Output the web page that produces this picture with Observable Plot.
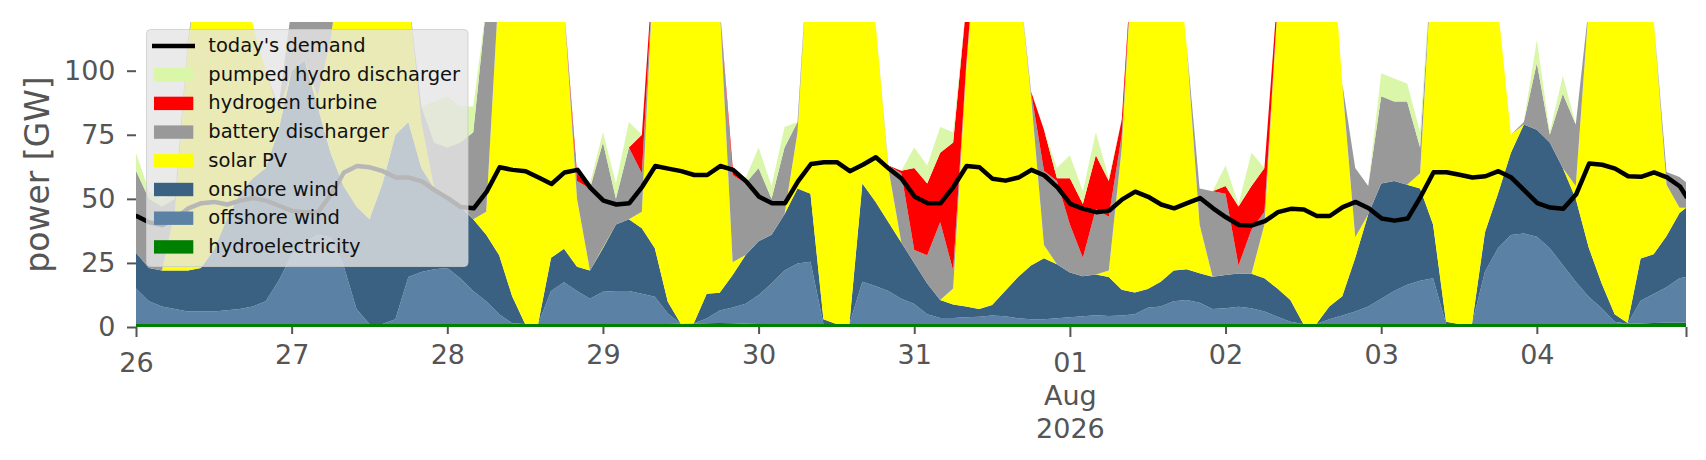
<!DOCTYPE html>
<html>
<head>
<meta charset="utf-8">
<script src="https://cdn.jsdelivr.net/npm/d3@7"></script>
<script src="https://cdn.jsdelivr.net/npm/@observablehq/plot@0.6"></script>
<style>
  html, body { margin: 0; padding: 0; background: #ffffff; }
  #chart { width: 1706px; height: 460px; }
</style>
</head>
<body>
<div id="chart"></div>
<script>
// hours since 26 Jul 2026 00:00 (two-hourly readings, last reading at 23:00 on 4 Aug)
const hours = [...d3.range(0, 240, 2), 239];

// values in GW
const hydroelectricity = [
  1.2,1.2,1.2,1.2,1.2,1.2,1.2,1.2,1.2,1.2, 1.2,1.2,1.2,1.2,1.2,1.2,1.2,1.2,1.2,1.2, 1.2,1.2,1.2,1.2,1.2,1.2,1.2,1.2,1.2,1.2,
  1.2,1.2,1.2,1.2,1.2,1.2,1.2,1.2,1.2,1.2, 1.2,1.2,1.3,1.4,1.5,1.6,1.5,1.3,1.2,1.2, 1.2,1.2,1.2,1.2,1.2,1.2,1.2,1.2,1.2,1.2,
  1.2,1.2,1.2,1.2,1.2,1.2,1.2,1.2,1.2,1.2, 1.2,1.2,1.2,1.2,1.2,1.2,1.2,1.2,1.2,1.2, 1.2,1.2,1.2,1.2,1.2,1.2,1.2,1.2,1.2,1.2,
  1.2,1.2,1.2,1.2,1.2,1.2,1.2,1.2,1.2,1.2, 1.2,1.2,1.2,1.2,1.2,1.2,1.2,1.2,1.2,1.2, 1.2,1.2,1.2,1.2,1.2,1.3,1.4,1.6,1.7,1.7, 1.7
];
const offshoreWind = [
  13.8,8.8,6.8,5.8,4.8,4.8,4.8,5.3,5.8,6.8, 8.8,16.8,26.8,31.8,34.8,33.8,22.8,5.8,0,0, 1.8,18.3,20.3,21.3,21.8,17.8,12.8,8.8,3.8,0.3,
  0,0,12.8,16.3,12.8,9.8,12.6,12.8,12.8,11.8, 10.6,4.1,0,0,1.8,4.8,6.1,7.8,11.3,15.8, 20.8,23.6,24.3,0,0,0,16.5,14.8,12.8,9.8,
  7.8,3.8,2.3,2.3,2.6,2.8,3.3,3,2.2,1.8, 1.8,2.2,2.6,3,3.4,3.1,3.3,3.8,6.3,6.8, 8.8,9.3,8.3,5.8,6.1,6.7,6.1,4.8,2.8,0.8,
  0,0,1.8,3.3,4.8,6.8,9.8,12.8,15.3,16.8, 17.8,0,0,0,20.4,29.5,34.7,35.3,34,29.5, 23,16.5,10.6,6.1,0.8,0,8.8,11.3,13.8,17.3, 17.8
];
const onshoreWind = [
  14,13,14,15,16,17,24,35.5,45,50, 52,59,72,71,50,33,31,40,40.8,54.8, 72,60.5,40.5,31.5,27,28,28,26,23,10.5,
  0,0,13,13,9.5,11,16.9,26,28,25.5, 18.9,4.6,0,0,9.7,7,12.7,19,21,19, 22,29.2,26.5,1.8,0,0,38.3,33,27,22,
  16,12,7,5.3,4.2,3,4.1,9.8,16.1,21, 23.8,21.1,17.5,15.6,15.9,15.2,10,8.5,7.3,9.7, 12,12,11.5,12.6,13,13,13.5,13,11,8.5,
  0,0,5,7.5,21,36,45,43,39,36, 21,0.8,0,0,15.4,21.3,32.1,42.5,41.8,41.3, 37.8,32.3,19.2,9.7,3,0.3,16.5,15.5,20,25.5, 27
];
const solarPV = [
  0,0,0,23,88,122,130,118,98,60, 38,7,0,0,4,44,95,118,123,104, 75,50,18,0,0,0,0,9,107,148,
  169,169,133,94.5,26.5,0,0.3,0,0,6.5, 119.3,155,169,169,152,112,5,0,0,0, 0,22,108,167,169,169,109,71,21,0,
  0,0,0,6.2,92,158,161,151,120.5,66, 5.2,0,0,0,0,2.5,55.5,146.5,155,152, 138,87.5,19,0,0,0,0,21,110,154.5,
  169,169,157,83,8,0,0,0,0,6, 110,163,169,169,128,73,7,0,0,0, 0,5,94,148,165,168.5,138.5,92,20,2, 0
];
const batteryDischarger = [
  32,27,25,5,2,0,0,0,0,0, 0,2,25,21,35,13,0,0,0,0, 0,0,6,18,20,25,34,80,0,0,
  0,0,0,0,7,32,41,10,28,15, 0,0,0,0,0,0,34,28,28.5,14, 26,4,0,0,0,0,0,0,1,27,
  5,11,30.5,7,2,0,0,0,0,2, 29,32.5,18.7,7.2,25.5,21,5,0,0,0, 0,0,14,33.4,31.7,3.1,17.2,5,0,0,
  0,0,0,0,27,11,34,31,32.5,10, 0,0,0,0,0,0,0,1,26,3, 29,24,0,0,0,0,0,0,5,12, 10
];
const hydrogenTurbine = [
  0,0,0,0,0,0,0,0,0,0, 0,0,0,0,0,0,0,0,0,0, 0,0,0,0,0,0,0,0,0,0,
  0,0,0,0,3,0,0,0,0,15, 0,0,0,0,0,0,3,0,0,0, 0,0,0,0,0,0,0,0,0,1,
  32,28,27,50,23,0,0,0,0,0, 16,1,18,21,21,14,6,0,0,0, 0,0,0,0,3,23,17,17,5,0,
  0,0,0,0,0,0,0,0,0,0, 0,0,0,0,0,0,0,0,0,0, 0,0,0,0,0,0,0,0,0,0, 0
];
const pumpedHydroDischarger = [
  7,3,3,2,0,0,0,0,0,0, 0,0,0,0,0,0,0,0,0,0, 0,0,0,16,20,14,10,0,0,0,
  0,0,0,0,0,2,4,6,10,0, 0,0,0,0,0,0,0,2,8,5, 8,0,0,0,0,0,0,0,0,0,
  8,7,10,4,0,0,0,0,0,0, 0,4,9,5,9,1,0,0,0,0, 0,0,0,0,8,1,13,0,0,0,
  0,0,0,0,0,0,9,9,7,6, 0,0,0,0,0,0,0,0,9,1, 7,0,0,0,0,0,0,0,0,0, 0
];
const todaysDemand = [
  43.5,41,40,42.5,46.5,48.5,49,48,49.5,50.5, 49.5,47.5,45.5,45,45,52,60.5,63,62.5,61, 58.5,58.5,57,53.5,50.5,47,46.5,53,62.5,61.5,
  61,58.5,56,60.5,61.5,54.5,49.5,48,48.5,55, 63,62,61,59.5,59.5,63,61.5,57,51,48.5, 48.5,57,63.8,64.5,64.5,61,63.5,66.4,62,58,
  51,48.5,48.5,55,63,62.5,58,57.3,58.5,61.5, 59.3,54.7,48.2,46.3,45,45.6,50,53,51,48, 46.5,48.5,50.5,46.5,43,40,39.8,41.5,45,46.3,
  46,43.5,43.5,47,49,46.5,42.5,41.7,42.5,51, 60.6,60.6,59.6,58.5,59,61,58.5,53.5,48.5,46.8, 46.3,52,64,63.5,62,59,58.8,60.5,58.6,55, 51
];

// stacking order, bottom to top
const seriesNames = ["hydroelectricity", "offshore wind", "onshore wind", "solar PV",
  "battery discharger", "hydrogen turbine", "pumped hydro discharger"];
const seriesValues = [hydroelectricity, offshoreWind, onshoreWind, solarPV,
  batteryDischarger, hydrogenTurbine, pumpedHydroDischarger];
const seriesColors = ["#008000", "#5b82a5", "#3b6182", "#ffff00", "#999999", "#ff0000", "#d9f6a9"];

// legend (top to bottom)
const legendLabels = ["today's demand", "pumped hydro discharger", "hydrogen turbine",
  "battery discharger", "solar PV", "onshore wind", "offshore wind", "hydroelectricity"];
const legendColors = ["#000000", "#d9f6a9", "#ff0000", "#999999", "#ffff00", "#3b6182", "#5b82a5", "#008000"];

// x ticks
const minorTickHours = [24, 48, 72, 96, 120, 168, 192, 216];
const minorTickLabels = ["27", "28", "29", "30", "31", "02", "03", "04"];
const majorTickHours = [0, 144, 239];
const majorTickLabels = ["26", "01\nAug\n2026", ""];
const yTicks = [0, 25, 50, 75, 100];

const start = Date.UTC(2026, 6, 26);
const toDate = h => new Date(start + h * 3600e3);

const rows = [];
seriesNames.forEach((name, k) => {
  hours.forEach((h, i) => rows.push({t: toDate(h), series: name, value: seriesValues[k][i]}));
});
const demandRows = hours.map((h, i) => ({t: toDate(h), value: todaysDemand[i]}));

const minorMap = new Map(minorTickHours.map((h, i) => [+toDate(h), minorTickLabels[i]]));
const majorMap = new Map(majorTickHours.map((h, i) => [+toDate(h), majorTickLabels[i]]));

const svg = Plot.plot({
  width: 1706,
  height: 460,
  marginLeft: 136,
  marginRight: 20,
  marginTop: 22,
  marginBottom: 133,
  style: {fontFamily: "'DejaVu Sans', sans-serif", background: "#ffffff", color: "#555555", overflow: "visible"},
  x: {type: "utc", domain: [toDate(0), toDate(239)]},
  y: {domain: [0, 119]},
  color: {domain: seriesNames, range: seriesColors},
  marks: [
    Plot.areaY(rows, {x: "t", y: "value", z: "series", fill: "series", order: seriesNames, clip: true}),
    Plot.lineY(demandRows, {x: "t", y: "value", stroke: "#000000", strokeWidth: 4.5, clip: true}),
    Plot.axisY(yTicks, {tickSize: 9, tickPadding: 12, fontSize: 27, color: "#555555", strokeWidth: 2, label: null}),
    Plot.axisX(minorTickHours.map(toDate), {tickSize: 7, tickPadding: 10, fontSize: 27, color: "#555555",
      strokeWidth: 2, label: null, tickFormat: d => minorMap.get(+d)}),
    Plot.axisX(majorTickHours.map(toDate), {tickSize: 10, tickPadding: 11, fontSize: 27, color: "#555555",
      strokeWidth: 2, label: null, lineHeight: 1.22, tickFormat: d => majorMap.get(+d)})
  ]
});

document.getElementById("chart").appendChild(svg);

const s = d3.select(svg);
// y-axis title
s.append("text")
  .attr("transform", "translate(49,174.5) rotate(-90)")
  .attr("text-anchor", "middle")
  .attr("font-family", "'DejaVu Sans', sans-serif")
  .attr("font-size", 33)
  .attr("fill", "#555555")
  .text("power [GW]");

// legend
const lg = s.append("g").attr("text-anchor", "start");
lg.append("rect")
  .attr("x", 146.5).attr("y", 29.5).attr("width", 321.5).attr("height", 237)
  .attr("rx", 4).attr("ry", 4)
  .attr("fill", "#e5e5e5").attr("fill-opacity", 0.8)
  .attr("stroke", "#cccccc").attr("stroke-opacity", 0.8).attr("stroke-width", 1);
legendLabels.forEach((label, i) => {
  const cy = 46 + i * 28.7;
  if (i === 0) {
    lg.append("line").attr("x1", 152).attr("x2", 195).attr("y1", cy).attr("y2", cy)
      .attr("stroke", legendColors[i]).attr("stroke-width", 4.5);
  } else {
    lg.append("rect").attr("x", 154).attr("y", cy - 6.7).attr("width", 39.3).attr("height", 13.4)
      .attr("fill", legendColors[i]);
  }
  lg.append("text").attr("x", 208.3).attr("y", cy + 6)
    .attr("text-anchor", "start")
    .attr("font-family", "'DejaVu Sans', sans-serif").attr("font-size", 19.5)
    .attr("fill", "#111111").text(label);
});
</script>
</body>
</html>
